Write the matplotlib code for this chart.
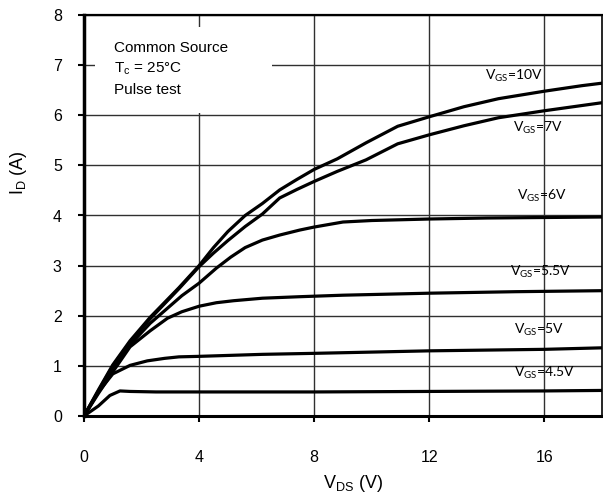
import matplotlib.pyplot as plt
from matplotlib.patches import Rectangle

# output characteristics
vds_10 = [0, 0.5, 1.0, 1.6, 2.3, 3.3, 4.0, 4.5, 5.0, 5.6, 6.2, 6.8, 7.4, 8.0, 8.8, 9.8, 10.9, 12.0, 13.2, 14.4, 16.0, 17.3, 18.0]
id_10 = [0, 0.52, 1.02, 1.5, 1.97, 2.56, 3.0, 3.36, 3.68, 4.0, 4.24, 4.51, 4.72, 4.92, 5.13, 5.45, 5.78, 5.97, 6.17, 6.33, 6.48, 6.59, 6.64]

vds_7 = [0, 0.5, 1.0, 1.6, 2.3, 3.3, 4.0, 4.5, 5.0, 5.6, 6.2, 6.8, 7.4, 8.0, 8.8, 9.8, 10.9, 12.0, 13.2, 14.4, 16.0, 18.0]
id_7 = [0, 0.5, 1.0, 1.47, 1.94, 2.54, 2.98, 3.25, 3.5, 3.78, 4.03, 4.35, 4.52, 4.68, 4.88, 5.11, 5.43, 5.61, 5.79, 5.95, 6.09, 6.25]

vds_6 = [0, 0.5, 1.0, 1.6, 2.3, 2.9, 3.4, 4.0, 4.6, 5.1, 5.6, 6.2, 6.8, 7.5, 8.0, 9.0, 10.0, 12.0, 14.0, 16.0, 18.0]
id_6 = [0, 0.48, 0.97, 1.42, 1.85, 2.15, 2.4, 2.65, 2.95, 3.17, 3.36, 3.51, 3.61, 3.71, 3.77, 3.87, 3.9, 3.93, 3.95, 3.96, 3.97]

vds_55 = [0, 0.5, 1.0, 1.6, 2.3, 2.9, 3.4, 4.0, 4.6, 5.2, 6.2, 7.5, 9.0, 12.0, 15.0, 18.0]
id_55 = [0, 0.45, 0.88, 1.38, 1.7, 1.95, 2.08, 2.19, 2.26, 2.3, 2.35, 2.38, 2.41, 2.45, 2.48, 2.5]

vds_5 = [0, 0.5, 1.0, 1.6, 2.2, 2.8, 3.3, 4.0, 6.2, 8.0, 12.0, 16.0, 18.0]
id_5 = [0, 0.48, 0.84, 1.01, 1.1, 1.15, 1.18, 1.19, 1.23, 1.25, 1.3, 1.33, 1.36]

vds_45 = [0, 0.5, 0.9, 1.25, 1.6, 2.5, 4.0, 8.0, 12.0, 16.0, 18.0]
id_45 = [0, 0.2, 0.41, 0.5, 0.49, 0.48, 0.48, 0.48, 0.49, 0.5, 0.51]

curves = [(vds_10, id_10), (vds_7, id_7), (vds_6, id_6), (vds_55, id_55), (vds_5, id_5), (vds_45, id_45)]
vgs_labels = ["10V", "7V", "6V", "5.5V", "5V", "4.5V"]
label_pos = [(13.95, 6.71), (14.91, 5.68), (15.05, 4.31), (14.79, 2.81), (14.93, 1.65), (14.93, 0.78)]

x_ticks = [0, 4, 8, 12, 16]
y_ticks = [0, 1, 2, 3, 4, 5, 6, 7, 8]

plt.rcParams['font.family'] = ['Liberation Sans', 'DejaVu Sans']

fig = plt.figure(figsize=(6.03, 5.01), dpi=100)
ax = fig.add_axes([84 / 603, 85 / 501, 518 / 603, 401 / 501])

for (x, y) in curves:
    ax.plot(x, y, color='black', linewidth=2.3, solid_joinstyle='round', zorder=4)

for lab, (lx, ly) in zip(vgs_labels, label_pos):
    ax.text(lx, ly, "V$_\\mathregular{GS}$=" + lab, family='Lato', fontsize=10,
            ha='left', va='baseline', zorder=5)

ax.set_xlim(0, 18)
ax.set_ylim(0, 8)
ax.set_xticks(x_ticks)
ax.set_yticks(y_ticks)
ax.grid(True, color='#303030', linewidth=1.0, zorder=1)
ax.set_axisbelow(True)

# white area behind the test conditions hides the grid
ax.add_patch(Rectangle((0.38, 6.05), 6.15, 1.72, facecolor='white', edgecolor='none', zorder=2))
ax.text(1.04, 7.26, "Common Source", fontsize=11, va='baseline', zorder=3)
ax.text(1.04, 6.85, "T$_\\mathregular{c}$ = 25°C", fontsize=11, va='baseline', zorder=3)
ax.text(1.04, 6.42, "Pulse test", fontsize=11, va='baseline', zorder=3)

ax.tick_params(axis='x', direction='out', length=4.5, width=1.5, pad=20, labelsize=11.5)
ax.tick_params(axis='y', direction='out', length=4.5, width=1.5, pad=11.5, labelsize=11.5)

ax.spines['left'].set_linewidth(2.5)
ax.spines['bottom'].set_linewidth(2.2)
ax.spines['top'].set_linewidth(1.6)
ax.spines['right'].set_linewidth(1.2)

fig.text(323 / 603, 13 / 501, "V$_\\mathregular{DS}$ (V)", fontsize=13, ha='left', va='baseline')
fig.text(8 / 603, (501 - 173) / 501, "I$_\\mathregular{D}$ (A)", fontsize=13, rotation=90,
         ha='left', va='center')

fig.savefig("out.png", dpi=100)
